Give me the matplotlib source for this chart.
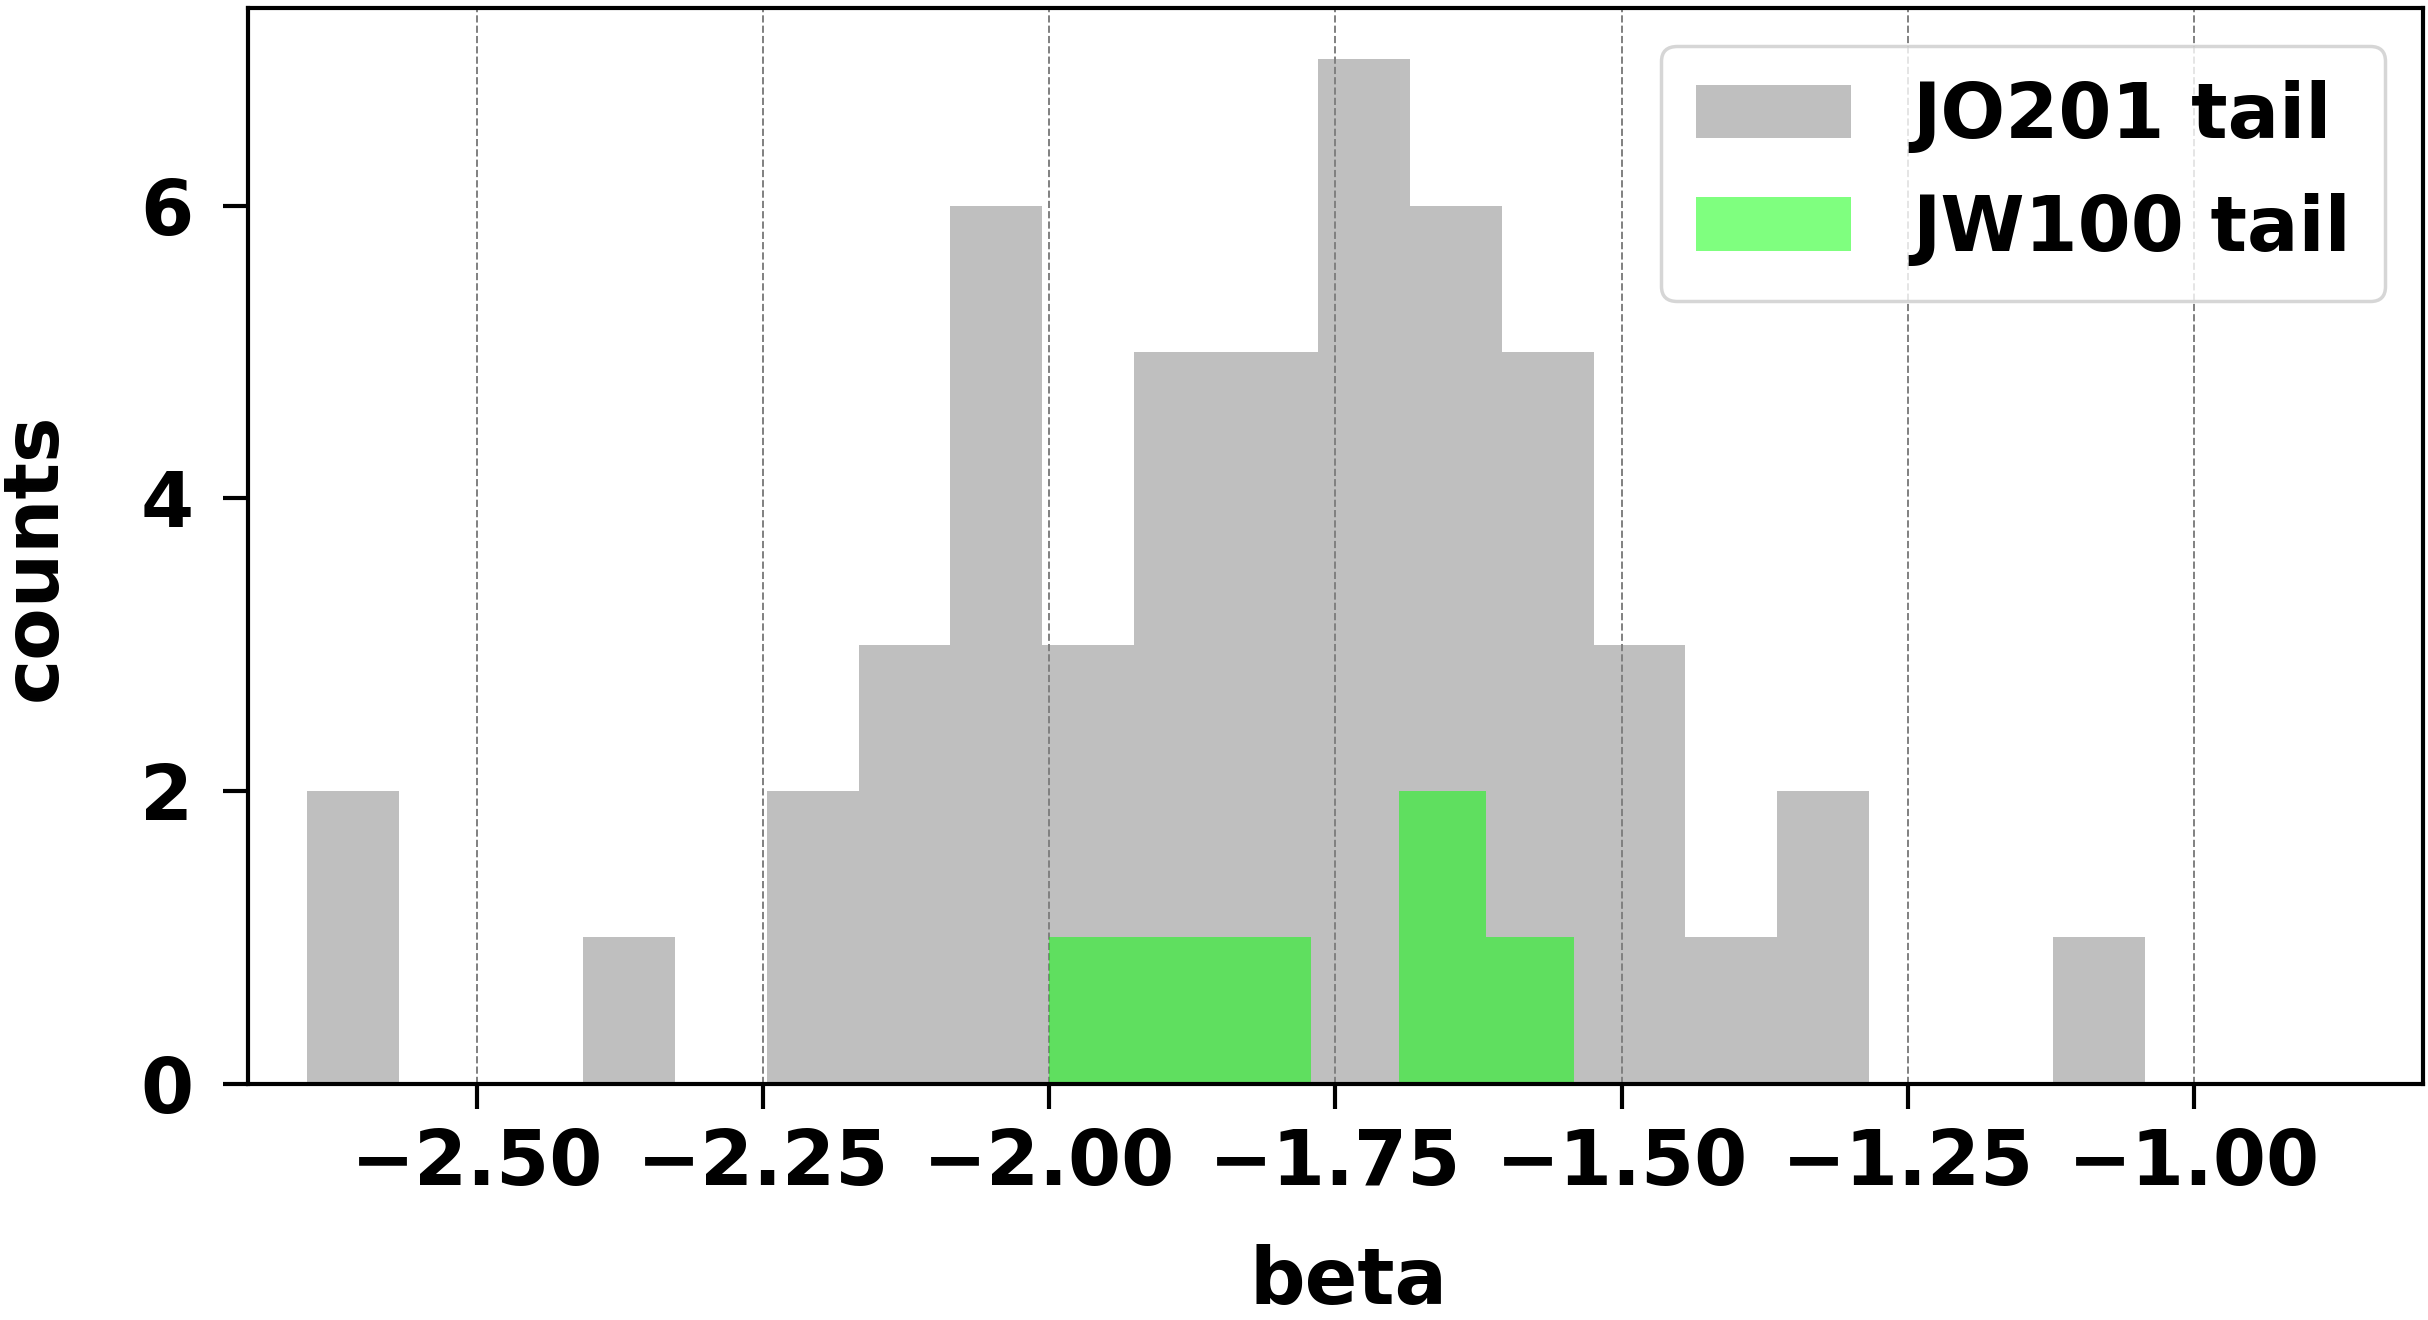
import numpy as np
import matplotlib
matplotlib.use("Agg")
import matplotlib.pyplot as plt

# JO201 tail histogram: 20 bins
jo201_range = (-2.648, -1.043)
jo201_counts = [2, 0, 0, 1, 0, 2, 3, 6, 3, 5, 5, 7, 6, 5, 3, 1, 2, 0, 0, 1]
# JW100 tail histogram: 6 bins
jw100_range = (-2.0, -1.542)
jw100_counts = [1, 1, 1, 0, 2, 1]

labels = ["JO201 tail", "JW100 tail"]
xticks = [-2.50, -2.25, -2.00, -1.75, -1.50, -1.25, -1.00]
yticks = [0, 2, 4, 6]

def edges(rng, counts):
    return np.linspace(rng[0], rng[1], len(counts) + 1)

plt.rcParams['font.family'] = ['DejaVu Sans']
plt.rcParams['font.weight'] = 'bold'

FS = 55

fig = plt.figure(figsize=(24.28, 13.2), dpi=100)
ax = fig.add_axes([0.102, 0.179, 0.896, 0.815])

e1 = edges(jo201_range, jo201_counts)
e2 = edges(jw100_range, jw100_counts)
ax.hist(e1[:-1] + np.diff(e1) / 2, bins=e1, weights=jo201_counts,
        color='gray', alpha=0.5, label=labels[0])
ax.hist(e2[:-1] + np.diff(e2) / 2, bins=e2, weights=jw100_counts,
        color='lime', alpha=0.5, label=labels[1])

ax.set_xlim(-2.70, -0.80)
ax.set_xticks(xticks)
ax.set_xticklabels([f"{t:.2f}".replace('-', '\u2212') for t in xticks])
ax.set_yticks(yticks)
ax.xaxis.grid(True, linestyle='--', color='gray', linewidth=1.4)
ax.set_axisbelow(True)

for s in ax.spines.values():
    s.set_linewidth(3.0)
ax.tick_params(axis='both', labelsize=FS, width=3, length=18)
ax.tick_params(axis='x', pad=13)
ax.tick_params(axis='y', pad=21)
for lab in ax.get_xticklabels() + ax.get_yticklabels():
    lab.set_fontweight('bold')
ax.set_xlabel('beta', fontsize=FS + 1, fontweight='bold')
ax.set_ylabel('counts', fontsize=FS, fontweight='bold')
ax.xaxis.set_label_coords(0.506, -0.149)
ax.yaxis.set_label_coords(-0.081, 0.49)

leg = ax.legend(loc='upper right', prop={'weight': 'bold', 'size': FS},
                handlelength=2.03, handletextpad=0.8, framealpha=0.8,
                borderpad=0.45, borderaxespad=0.5)
leg.get_frame().set_linewidth(2.5)

fig.savefig('out.png', dpi=100)
